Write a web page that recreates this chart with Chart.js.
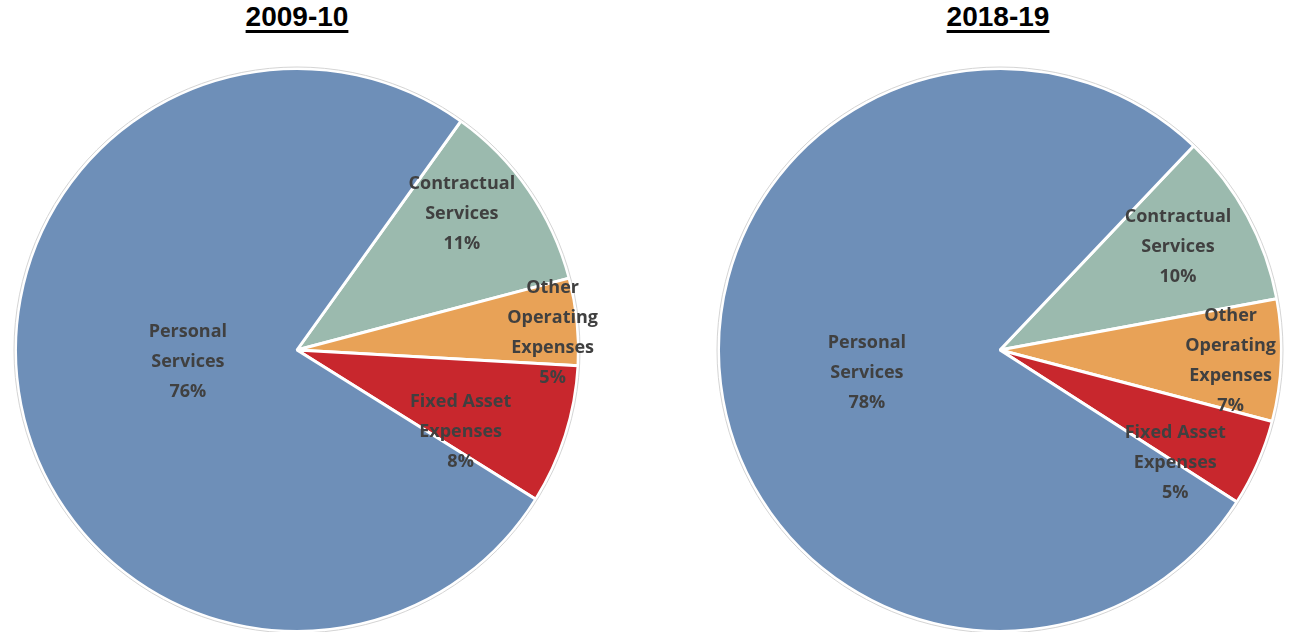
<!DOCTYPE html>
<html>
<head>
<meta charset="utf-8">
<script src="https://cdn.jsdelivr.net/npm/chart.js@4.4.1/dist/chart.umd.min.js"></script>
<style>
  body { margin: 0; background: #fff; width: 1291px; height: 632px; overflow: hidden; position: relative; }
  .ttl { position: absolute; top: 1px; font: bold 28px "Liberation Sans", Arial, sans-serif; color: #000; text-decoration: underline; text-decoration-thickness: 3px; text-underline-offset: 4px; }
  .box { position: absolute; top: 64px; width: 634px; height: 572px; }
</style>
</head>
<body>
<div class="ttl" id="t1" style="left:0;width:594px;text-align:center;">2009-10</div>
<div class="ttl" id="t2" style="left:701px;width:594px;text-align:center;">2018-19</div>
<div class="box" style="left:-20px;"><canvas id="pie1"></canvas></div>
<div class="box" style="left:683px;"><canvas id="pie2"></canvas></div>
<script>
// categories (drawn clockwise, starting with Contractual Services)
const categories = [["Contractual", "Services"], ["Other", "Operating", "Expenses"], ["Fixed Asset", "Expenses"], ["Personal", "Services"]];
const share0910 = [11, 5, 8, 76];
const share1819 = [10, 7, 5, 78];
const colors = ["#9BBAAE", "#E8A257", "#C8272D", "#6E8FB8"];

// label placement: radius fraction and angle shift (deg) per slice
const labelPos1 = [[0.76, -5], [0.91, 2], [0.65, 9], [0.39, 5]];
const labelPos2 = [[0.73, -1.5], [0.82, 0.5], [0.74, 9], [0.48, -3]];

const labelPlugin = {
  id: "sliceLabels",
  afterDatasetsDraw(chart, args, opts) {
    const ctx = chart.ctx;
    const meta = chart.getDatasetMeta(0);
    const vals = chart.data.datasets[0].data;
    ctx.save();
    ctx.font = "bold 18px 'Open Sans', sans-serif";
    ctx.fillStyle = "#404040";
    ctx.textAlign = "center";
    ctx.textBaseline = "middle";
    // faint outer outline
    const a0 = meta.data[0];
    ctx.beginPath();
    ctx.arc(a0.x, a0.y, a0.outerRadius + 1.5, 0, Math.PI * 2);
    ctx.strokeStyle = "#d4d4d4";
    ctx.lineWidth = 1;
    ctx.stroke();
    meta.data.forEach((arc, i) => {
      const p = opts.pos[i];
      const mid = (arc.startAngle + arc.endAngle) / 2 + p[1] * Math.PI / 180;
      const r = arc.outerRadius * p[0];
      const cx = arc.x + Math.cos(mid) * r;
      const cy = arc.y + Math.sin(mid) * r;
      const lines = categories[i].concat([vals[i] + "%"]);
      const lh = 30;
      lines.forEach((ln, k) => {
        ctx.fillText(ln, cx, cy + (k - (lines.length - 1) / 2) * lh);
      });
    });
    ctx.restore();
  }
};

function makePie(id, values, rot, pos) {
  new Chart(document.getElementById(id), {
    type: "pie",
    data: {
      labels: categories.map(c => c.join(" ")),
      datasets: [{
        data: values,
        backgroundColor: colors,
        borderColor: "#ffffff",
        borderWidth: 3
      }]
    },
    options: {
      responsive: true,
      maintainAspectRatio: false,
      animation: false,
      rotation: rot,
      layout: { padding: { top: 3, bottom: 3, left: 34, right: 34 } },
      plugins: {
        legend: { display: false },
        tooltip: { enabled: false },
        sliceLabels: { pos: pos }
      }
    },
    plugins: [labelPlugin]
  });
}

makePie("pie1", share0910, 35.6, labelPos1);
makePie("pie2", share1819, 43.5, labelPos2);
</script>
</body>
</html>
